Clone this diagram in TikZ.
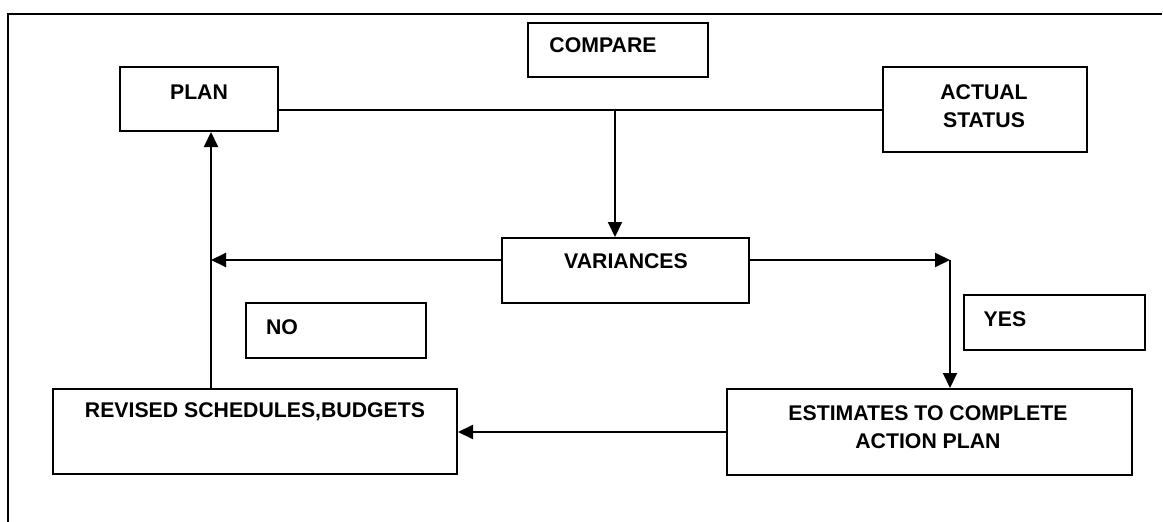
\documentclass[tikz,border=0pt]{standalone}
\usepackage{fontspec}
\setmainfont{Liberation Sans}
\usetikzlibrary{arrows.meta}
\begin{document}
\begin{tikzpicture}[x=1pt,y=-1pt,
  box/.style={draw, line width=2pt, inner sep=0pt},
  lbl/.style={font=\bfseries\fontsize{21.25}{28}\selectfont, align=center, inner sep=0pt},
  conn/.style={line width=2pt},
  arr/.style={line width=2pt, -{Triangle[length=15pt,width=14pt]}}]
\useasboundingbox (0,0) rectangle (1163,522);

% frame (top and left edges)
\draw[line width=1.7pt] (8,522) -- (8,14) -- (1162,14);

% boxes
\node[box, minimum width=158pt, minimum height=64pt] (plan) at (199,99) {};
\node[box, minimum width=180pt, minimum height=54pt] (compare) at (618,50) {};
\node[box, minimum width=204pt, minimum height=85pt] (actual) at (985,109.5) {};
\node[box, minimum width=247pt, minimum height=65pt] (variances) at (625.5,270.5) {};
\node[box, minimum width=180pt, minimum height=55pt] (no) at (336,330.5) {};
\node[box, minimum width=181pt, minimum height=55pt] (yes) at (1054.5,322.5) {};
\node[box, minimum width=404pt, minimum height=85pt] (revised) at (255,431.5) {};
\node[box, minimum width=405pt, minimum height=86pt] (estimates) at (929.5,432) {};

% texts
\node[lbl] (tplan) at (199,92) {PLAN};
\node[lbl] (tcompare) at (603,45) {COMPARE};
\node[lbl] (tactual) at (984,106) {ACTUAL\\STATUS};
\node[lbl] (tvariances) at (626,261) {VARIANCES};
\node[lbl] (tno) at (282,327) {NO};
\node[lbl] (tyes) at (1005,319) {YES};
\node[lbl] (trevised) at (255,412) {REVISED SCHEDULES,BUDGETS};
\node[lbl] (testimates) at (928,427.5) {ESTIMATES TO COMPLETE\\ACTION PLAN};

% junction points
\coordinate (cmp) at (615,110);
\coordinate (vl) at (211,260);
\coordinate (vr) at (950,260);

% connectors
\draw[conn] (plan.east |- cmp) -- (actual.west |- cmp);
\draw[arr] (cmp) -- (cmp |- variances.north);
\draw[arr] (variances.west |- vl) -- (vl);
\draw[arr] (variances.east |- vr) -- (vr);
\draw[arr] (vr) -- (vr |- estimates.north);
\draw[arr] (revised.north -| vl) -- (plan.south -| vl);
\draw[arr] (estimates.west) -- (revised.east |- estimates.west);
\end{tikzpicture}
\end{document}
